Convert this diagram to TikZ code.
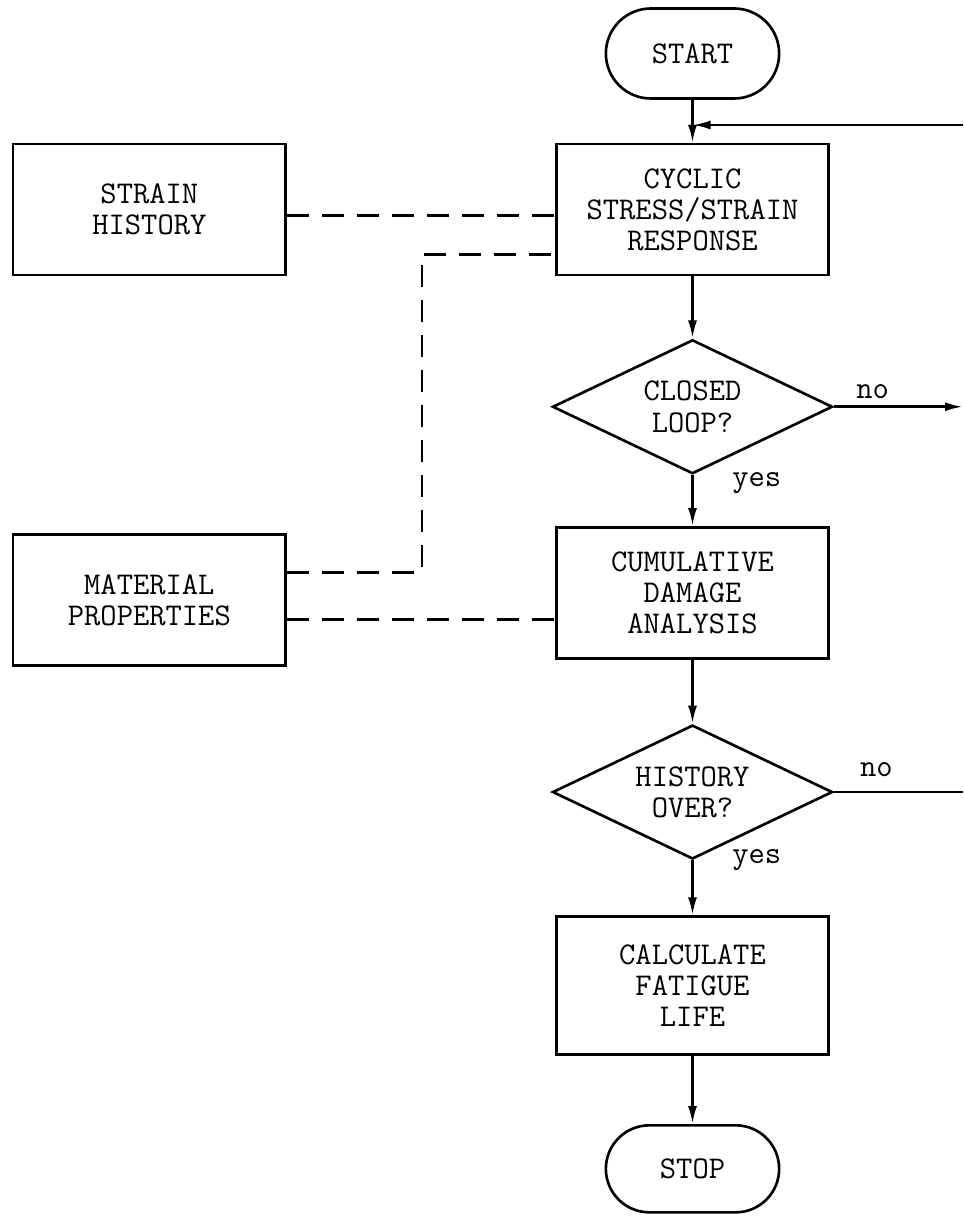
\documentclass[tikz,border=0pt]{standalone}
\usetikzlibrary{shapes.geometric, shapes.misc, arrows.meta, positioning}

\begin{document}
\begin{tikzpicture}[
    node distance=1cm,
    font=\ttfamily\fontsize{18}{17.8}\selectfont,
    line width=1.5pt,
    box/.style={rectangle, draw, minimum width=5.45cm, minimum height=2.62cm, align=center},
    term/.style={rounded rectangle, draw, minimum width=3.7cm, minimum height=1.8cm},
    decision/.style={diamond, draw, aspect=2.1, inner sep=0pt, minimum width=5.6cm, minimum height=2.68cm, align=center},
    flow/.style={-{Latex[length=3.6mm, width=1.8mm]}},
    dashline/.style={dash pattern=on 4.4mm off 2.6mm},
    tag/.style={inner sep=2pt}
]
\useasboundingbox (0,0) rectangle (19.26,-24.4);

% main column
\node[term] (start) at (13.85,-1.07) {START};
\node[box, below=0.86cm of start] (cyclic) {CYCLIC\\STRESS/STRAIN\\RESPONSE};
\node[decision, below=1.24cm of cyclic] (closed) {CLOSED\\LOOP?};
\node[box, below=1.02cm of closed] (damage) {CUMULATIVE\\DAMAGE\\ANALYSIS};
\node[decision, below=1.28cm of damage] (over) {HISTORY\\OVER?};
\node[box, minimum height=2.76cm, below=1.10cm of over] (life) {CALCULATE\\FATIGUE\\LIFE};
\node[term, minimum height=1.74cm, below=1.36cm of life] (stop) {STOP};

% inputs
\node[box, left=5.36cm of cyclic] (strain) {STRAIN\\HISTORY};
\node[box, below=5.14cm of strain] (material) {MATERIAL\\PROPERTIES};

% loose ends at the right margin
\coordinate (loopin) at (19.26,-2.5);
\coordinate (join) at (start.south |- loopin);
\coordinate (exitA) at (closed.east -| loopin);
\coordinate (exitB) at (over.east -| loopin);

\draw[flow] (start) -- (cyclic);
\draw[flow] (loopin) -- (join);
\draw[flow] (cyclic) -- (closed);
\draw[flow] (closed) -- node[tag, pos=0.15, anchor=west, xshift=7mm] {yes} (damage);
\draw[flow] (closed.east) -- node[tag, pos=0.3, above=2pt] {no} (exitA);
\draw[flow] (damage) -- (over);
\draw (over.east) -- node[tag, pos=0.33, above=6pt] {no} (exitB);
\draw[flow] (over) -- node[tag, pos=0, anchor=west, xshift=7mm] {yes} (life);
\draw[flow] (life) -- (stop);

% data links
\draw[dashline] ([yshift=-1.2mm]strain.east) -- ([yshift=-1.2mm]strain.east -| cyclic.west);
\draw[dashline] ([yshift=5.6mm]material.east) -| ([xshift=-26.6mm, yshift=-9mm]cyclic.west) -- ([yshift=-9mm]cyclic.west);
\draw[dashline] ([yshift=-3.8mm]material.east) -- ([yshift=-3.8mm]material.east -| damage.west);
\end{tikzpicture}
\end{document}
